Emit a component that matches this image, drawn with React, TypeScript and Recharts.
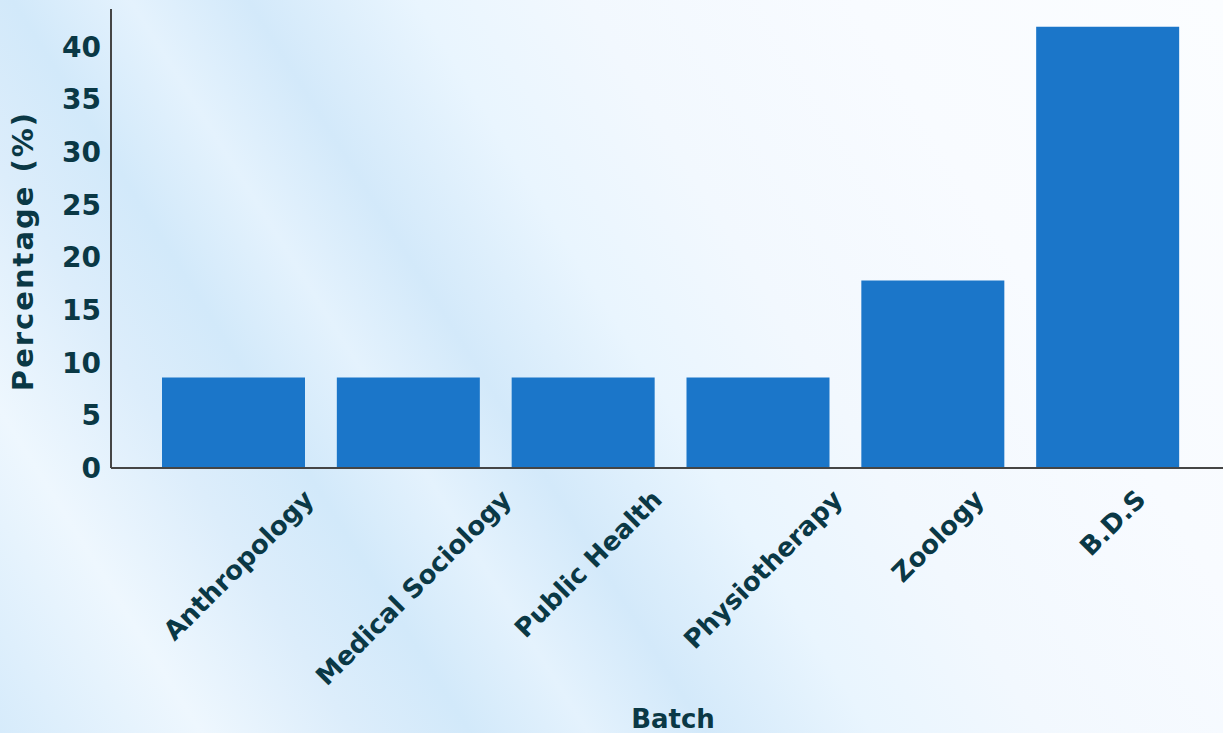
import { BarChart, Bar, XAxis, YAxis, ReferenceLine } from 'recharts';

const batches = ['Anthropology', 'Medical Sociology', 'Public Health', 'Physiotherapy', 'Zoology', 'B.D.S'];
const percentages = [8.6, 8.6, 8.6, 8.6, 17.8, 41.9];
const yTicks = [0, 5, 10, 15, 20, 25, 30, 35, 40];

const data = batches.map((batch, i) => ({ batch, value: percentages[i] }));
const yMax = Math.max(...percentages) * 1.04;

const INK = '#0a3845';
const FONT = '"DejaVu Sans", sans-serif';

let ctx: CanvasRenderingContext2D | null = null;
function textWidth(s: string, size: number) {
  if (!ctx) ctx = document.createElement('canvas').getContext('2d');
  if (!ctx) return s.length * size * 0.6;
  ctx.font = `bold ${size}px "DejaVu Sans"`;
  return ctx.measureText(s).width;
}

// rotated label whose bounding box is centred under the bar and hangs from a fixed top
function BatchTick(props: any) {
  const { x, payload } = props;
  const size = 26;
  const angle = 45;
  const rad = (angle * Math.PI) / 180;
  const w = textWidth(payload.value, size);
  const h = size * 1.16;
  const top = 484;
  const cy = top + (w * Math.sin(rad) + h * Math.cos(rad)) / 2;
  return (
    <g transform={`translate(${x + 5},${cy})`}>
      <text
        transform={`rotate(-${angle})`}
        textAnchor="middle"
        dy="0.35em"
        fill={INK}
        fontSize={size}
        fontWeight="bold"
        fontFamily={FONT}
      >
        {payload.value}
      </text>
    </g>
  );
}

export default function App() {
  return (
    <div
      style={{
        position: 'absolute',
        left: 0,
        top: 0,
        width: 1223,
        height: 733,
        overflow: 'hidden',
        background:
          'linear-gradient(58deg, #d6ebfb 0%, #eef7fe 12%, #dcedfb 21%, #d2e9fa 28%, #e4f2fd 35%, #d3e9fa 42%, #e9f5fe 52%, #f2f8fe 62%, #f8fbff 78%, #fbfdff 100%)',
      }}
    >
      <BarChart width={1223} height={733} data={data} margin={{ top: 9, right: 0, bottom: 0, left: 0 }}>
        <XAxis
          dataKey="batch"
          height={265}
          padding={{ left: 35, right: 28 }}
          axisLine={{ stroke: '#454545', strokeWidth: 2 }}
          tickLine={false}
          interval={0}
          tick={<BatchTick />}
          label={{
            value: 'Batch',
            position: 'insideBottom',
            offset: 5,
            dx: 6,
            fill: INK,
            fontSize: 26,
            fontWeight: 'bold',
            fontFamily: FONT,
          }}
        />
        <YAxis
          width={111}
          domain={[0, yMax]}
          ticks={yTicks}
          axisLine={{ stroke: '#454545', strokeWidth: 2 }}
          tickLine={false}
          tickSize={0}
          tickMargin={10}
          tick={{ fill: INK, fontSize: 28, fontWeight: 'bold', fontFamily: FONT }}
          label={{
            content: () => (
              <text
                x={33}
                y={251}
                transform="rotate(-90, 33, 251)"
                textAnchor="middle"
                fill={INK}
                fontSize={29}
                fontWeight="bold"
                fontFamily={FONT}
                letterSpacing={2}
              >
                Percentage (%)
              </text>
            ),
          }}
        />
        <Bar dataKey="value" fill="#1b76c9" barSize={143} isAnimationActive={false} />
        <ReferenceLine y={0} stroke="#454545" strokeWidth={2} />
      </BarChart>
    </div>
  );
}
